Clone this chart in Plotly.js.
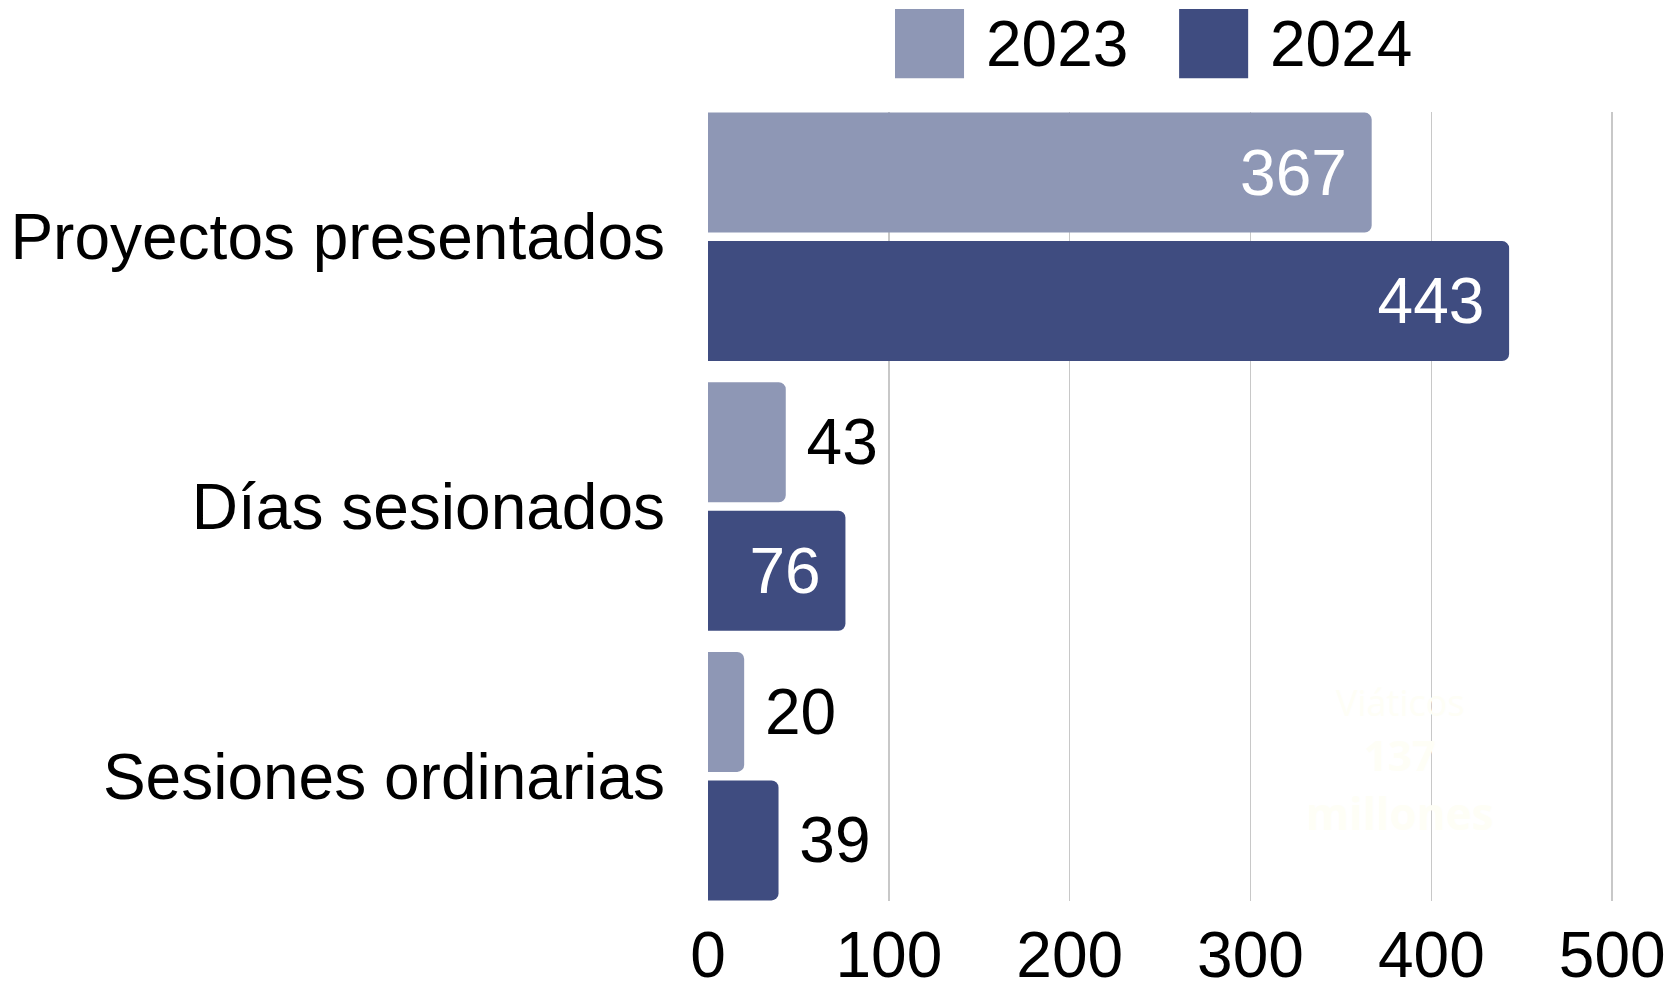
<!DOCTYPE html>
<html>
<head>
<meta charset="utf-8">
<script src="https://cdn.plot.ly/plotly-3.0.1.min.js"></script>
<style>html,body{margin:0;padding:0;background:#fff;}#chart{width:1667px;height:995px;}</style>
</head>
<body>
<div id="chart"></div>
<script>
const categories = ["Proyectos presentados", "Días sesionados", "Sesiones ordinarias"];
const values2023 = [367, 43, 20];
const values2024 = [443, 76, 39];
const seriesNames = ["2023", "2024"];
const xTicks = [0, 100, 200, 300, 400, 500];
const watermarkLines = ["Viáticos", "137", "millones"];

const colors = ["#8e97b5", "#3f4c80"];
const FONT = "Liberation Sans, Arial, sans-serif";
const NB = "\u00a0";

function makeTrace(vals, name, color, positions) {
  return {
    type: "bar",
    orientation: "h",
    name: name,
    y: categories,
    x: vals,
    text: vals.map((v, i) => positions[i] === "inside" ? String(v) + NB : NB + String(v)),
    textposition: positions,
    insidetextanchor: "end",
    constraintext: "none",
    cliponaxis: false,
    textfont: {family: FONT, size: 64},
    insidetextfont: {family: FONT, size: 64, color: "#ffffff"},
    outsidetextfont: {family: FONT, size: 64, color: "#000000"},
    marker: {color: color, cornerradius: 7},
    hoverinfo: "skip",
    showlegend: false
  };
}

const data = [
  makeTrace(values2023, seriesNames[0], colors[0], ["inside", "outside", "outside"]),
  makeTrace(values2024, seriesNames[1], colors[1], ["inside", "inside", "outside"])
];

// plot area: 708 .. 1613.8 px wide (905.8), legend positions in paper units
const legendShapes = [
  {type: "rect", xref: "paper", yref: "paper", x0: 0.2064, x1: 0.2826, y0: 1.0429, y1: 1.1304, fillcolor: colors[0], line: {width: 0}},
  {type: "rect", xref: "paper", yref: "paper", x0: 0.5200, x1: 0.5962, y0: 1.0429, y1: 1.1304, fillcolor: colors[1], line: {width: 0}}
];

const WM = "#fefef6";
const annotations = [
  {xref: "paper", yref: "paper", x: 0.3047, y: 1.0867, xanchor: "left", yanchor: "middle", text: seriesNames[0], showarrow: false, font: {family: FONT, size: 64, color: "#000"}},
  {xref: "paper", yref: "paper", x: 0.6183, y: 1.0867, xanchor: "left", yanchor: "middle", text: seriesNames[1], showarrow: false, font: {family: FONT, size: 64, color: "#000"}},
  {xref: "paper", yref: "paper", x: 0.764, y: 0.252, xanchor: "center", yanchor: "middle", text: watermarkLines[0], showarrow: false, font: {family: "Open Sans, sans-serif", size: 36, color: WM}},
  {xref: "paper", yref: "paper", x: 0.764, y: 0.186, xanchor: "center", yanchor: "middle", text: "<b>" + watermarkLines[1] + "</b>", showarrow: false, font: {family: "Open Sans, sans-serif", size: 42, color: WM}},
  {xref: "paper", yref: "paper", x: 0.764, y: 0.112, xanchor: "center", yanchor: "middle", text: "<b>" + watermarkLines[2] + "</b>", showarrow: false, font: {family: "Open Sans, sans-serif", size: 44, color: WM}}
];

const layout = {
  width: 1667,
  height: 995,
  margin: {l: 708, r: 53.2, t: 112, b: 93.5, pad: 0},
  paper_bgcolor: "#ffffff",
  plot_bgcolor: "#ffffff",
  barmode: "group",
  bargap: 0.047,
  bargroupgap: 0.066,
  showlegend: false,
  font: {family: FONT, size: 64, color: "#000"},
  xaxis: {
    range: [0, 501],
    tickvals: xTicks,
    ticktext: xTicks.map(String),
    showgrid: true,
    gridcolor: "#c8c8c8",
    gridwidth: 1.5,
    zeroline: false,
    showline: false,
    ticks: "",
    ticklabelstandoff: 11,
    tickfont: {family: FONT, size: 64, color: "#000"},
    fixedrange: true
  },
  yaxis: {
    type: "category",
    range: [2.463, -0.463],
    showgrid: false,
    zeroline: false,
    showline: false,
    ticks: "",
    ticklabelstandoff: 42,
    tickfont: {family: FONT, size: 64, color: "#000"},
    fixedrange: true
  },
  shapes: legendShapes,
  annotations: annotations
};

Plotly.newPlot("chart", data, layout, {displayModeBar: false, staticPlot: true});
</script>
</body>
</html>
